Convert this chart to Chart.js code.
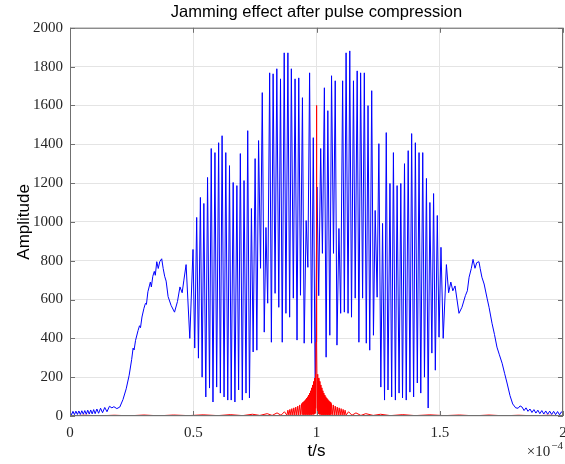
<!DOCTYPE html>
<html>
<head>
<meta charset="utf-8">
<script src="https://cdn.jsdelivr.net/npm/chart.js@4.4.0/dist/chart.umd.min.js"></script>
<style>
  html, body { margin: 0; padding: 0; background: #fff; }
  canvas { display: block; }
</style>
</head>
<body>
<canvas id="jamChart" width="565" height="464"></canvas>
<script>
// time in units of 1e-4 s, amplitude
const xTicks = [0, 0.5, 1, 1.5, 2];
const yTicks = [0, 200, 400, 600, 800, 1000, 1200, 1400, 1600, 1800, 2000];

// jamming signal (blue)
const blueTime = [
  0.000, 0.006, 0.012, 0.018, 0.024, 0.030, 0.036, 0.042, 0.048, 0.054,
  0.060, 0.066, 0.072, 0.078, 0.084, 0.090, 0.096, 0.102, 0.109, 0.116,
  0.124, 0.132, 0.141, 0.150, 0.160, 0.170, 0.178, 0.190, 0.202, 0.215,
  0.228, 0.240, 0.250, 0.256, 0.260, 0.266, 0.276, 0.282, 0.286, 0.292,
  0.300, 0.306, 0.310, 0.316, 0.322, 0.326, 0.330, 0.336, 0.342, 0.346,
  0.352, 0.358, 0.364, 0.372, 0.378, 0.384, 0.390, 0.398, 0.410, 0.424,
  0.436, 0.446, 0.455, 0.462, 0.471, 0.486,
  0.499, 0.506, 0.514, 0.521, 0.529, 0.536, 0.543, 0.551, 0.558, 0.566,
  0.573, 0.580, 0.588, 0.595, 0.603, 0.610, 0.617, 0.625, 0.632, 0.640,
  0.647, 0.654, 0.662, 0.669, 0.677, 0.684, 0.691, 0.699, 0.706, 0.714,
  0.721, 0.728, 0.736, 0.743, 0.751, 0.758, 0.765, 0.773, 0.780, 0.788,
  0.795, 0.802, 0.810, 0.817, 0.824, 0.832, 0.839, 0.847, 0.854, 0.861,
  0.869, 0.876, 0.884, 0.891, 0.898, 0.906, 0.913, 0.921, 0.928, 0.935,
  0.943, 0.950, 0.958, 0.965, 0.972, 0.980, 0.987, 0.995,
  1.002,
  1.009, 1.017, 1.024, 1.032, 1.039, 1.046, 1.054, 1.061, 1.069, 1.076,
  1.083, 1.091, 1.098, 1.106, 1.113, 1.120, 1.128, 1.135, 1.142, 1.150,
  1.157, 1.165, 1.172, 1.179, 1.187, 1.194, 1.202, 1.209, 1.216, 1.224,
  1.231, 1.238, 1.246, 1.253, 1.261, 1.268, 1.276, 1.283, 1.290, 1.298,
  1.305, 1.312, 1.320, 1.327, 1.335, 1.342, 1.349, 1.357, 1.364, 1.372,
  1.379, 1.386, 1.394, 1.401, 1.409, 1.416, 1.423, 1.431, 1.438, 1.446,
  1.453, 1.460, 1.468, 1.475, 1.482, 1.490, 1.497, 1.505,
  1.514, 1.527, 1.536, 1.545, 1.553, 1.562, 1.578, 1.590, 1.604, 1.612,
  1.619, 1.628, 1.635, 1.643, 1.650, 1.659, 1.664, 1.671, 1.680, 1.692,
  1.700, 1.712, 1.722, 1.732, 1.742, 1.753, 1.763, 1.773, 1.785, 1.796,
  1.808, 1.818, 1.826, 1.834, 1.842, 1.850, 1.858, 1.866, 1.874, 1.882,
  1.890, 1.898, 1.906, 1.914, 1.922, 1.930, 1.938, 1.946, 1.954, 1.962,
  1.970, 1.978, 1.986, 1.994, 2.000
];
const blueAmp = [
  20, 6, 24, 7, 25, 8, 26, 8, 27, 9,
  28, 9, 30, 10, 31, 11, 33, 12, 36, 14,
  40, 17, 44, 22, 50, 42, 48, 38, 46, 85,
  140, 210, 290, 350, 340, 390, 440, 465, 455, 510,
  555, 580, 575, 640, 670, 690, 665, 720, 745, 725,
  795, 760, 795, 810, 760, 720, 695, 615, 570, 535,
  590, 665, 635, 700, 780, 400,
  858, 350, 1023, 298, 1126, 200, 1095, 98, 1229, 144,
  1378, 72, 1357, 149, 1408, 118, 1444, 98, 1357, 82,
  1290, 82, 1203, 72, 1187, 134, 1352, 82, 1213, 118,
  1470, 93, 1069, 330, 1326, 339, 1419, 761, 1666, 432,
  971, 581, 1768, 380, 1763, 632, 1789, 560, 1737, 380,
  1871, 529, 1871, 509, 1789, 607, 1737, 391, 1742, 622,
  1640, 375, 1007, 766, 1768, 375, 1434, 67,
  1180,
  620, 1378, 838, 1691, 303, 1573, 416, 1753, 838, 1727,
  365, 966, 529, 1727, 535, 1871, 529, 1881, 509, 1727,
  607, 1778, 380, 1768, 607, 1768, 375, 1599, 339, 1676,
  416, 1059, 612, 1403, 149, 992, 82, 1460, 134, 1198,
  98, 1357, 82, 1187, 118, 1198, 93, 1300, 82, 1367,
  123, 1455, 98, 1408, 170, 1357, 118, 1357, 200, 1224,
  41, 1100, 324, 1146, 236, 1033, 406, 869,
  400, 780, 635, 690, 645, 670, 529, 560, 620, 645,
  715, 760, 807, 761, 790, 795, 760, 715, 680, 607,
  560, 478, 420, 355, 315, 272, 220, 170, 105, 62,
  42, 40, 52, 46, 28, 42, 24, 36, 18, 33,
  15, 30, 12, 28, 10, 26, 9, 25, 8, 24,
  7, 23, 6, 22, 12
];

// compressed echo (red)
const redTime = [
  0.000, 0.060, 0.120, 0.180, 0.240, 0.300, 0.360, 0.420, 0.480, 0.540,
  0.600, 0.650, 0.700, 0.740, 0.770, 0.800, 0.820, 0.840, 0.856, 0.870,
  0.880,
  0.884, 0.888, 0.892, 0.896, 0.900, 0.904, 0.908, 0.912, 0.916, 0.920,
  0.924, 0.928, 0.932, 0.936, 0.940,
  0.942, 0.944, 0.946, 0.948, 0.950, 0.952, 0.954, 0.956, 0.958, 0.960,
  0.962, 0.964, 0.966, 0.968, 0.970, 0.972, 0.974, 0.976, 0.978, 0.980,
  0.982, 0.984, 0.986, 0.988, 0.990, 0.992, 0.994, 0.996, 0.997, 0.998,
  0.999, 1.000,
  1.001, 1.002, 1.003, 1.004, 1.006, 1.008, 1.010, 1.012, 1.014, 1.016,
  1.018, 1.020, 1.022, 1.024, 1.026, 1.028, 1.030, 1.032, 1.034, 1.036,
  1.038, 1.040, 1.042, 1.044, 1.046, 1.048, 1.050, 1.052, 1.054, 1.056,
  1.058, 1.060,
  1.064, 1.068, 1.072, 1.076, 1.080, 1.084, 1.088, 1.092, 1.096, 1.100,
  1.104, 1.108, 1.112, 1.116, 1.120,
  1.130, 1.144, 1.160, 1.180, 1.200, 1.230, 1.260, 1.300, 1.350, 1.400,
  1.460, 1.520, 1.580, 1.640, 1.700, 1.760, 1.820, 1.880, 1.940, 2.000
];
const redAmp = [
  1, 4, 1, 4, 1, 5, 1, 5, 2, 6,
  2, 7, 2, 9, 3, 12, 3, 16, 4, 22,
  4,
  30, 4, 34, 5, 38, 4, 42, 5, 46, 5,
  51, 4, 57, 6, 64,
  8, 70, 6, 74, 8, 79, 6, 85, 8, 92,
  6, 99, 8, 108, 6, 118, 8, 130, 6, 145,
  9, 160, 8, 178, 10, 195, 14, 215, 40, 380,
  1150, 1600,
  1150, 380, 40, 215, 14, 195, 10, 178, 8, 160,
  9, 145, 6, 130, 8, 118, 6, 108, 8, 99,
  6, 92, 8, 85, 6, 79, 8, 74, 6, 70,
  8, 64,
  6, 57, 4, 51, 5, 46, 5, 42, 4, 38,
  5, 34, 4, 30, 4,
  22, 4, 16, 3, 12, 3, 9, 2, 7, 2,
  6, 2, 5, 1, 5, 1, 4, 1, 4, 1
];

const bluePts = blueTime.map((t, i) => ({ x: t, y: blueAmp[i] }));
const redPts = redTime.map((t, i) => ({ x: t, y: redAmp[i] }));

const tickFont = { family: 'Liberation Serif', size: 15 };
const labelFont = { family: 'Liberation Sans', size: 17 };

// MATLAB style box with inward ticks and the x exponent
const boxPlugin = {
  id: 'matlabBox',
  afterDatasetsDraw(chart) {
    const { ctx, chartArea: a, scales: { x, y } } = chart;
    ctx.save();
    ctx.strokeStyle = '#707070';
    ctx.lineWidth = 1;
    ctx.strokeRect(a.left + 0.5, a.top + 0.5, a.right - a.left - 1, a.bottom - a.top - 1);
    ctx.beginPath();
    xTicks.forEach(v => {
      const px = Math.round(x.getPixelForValue(v)) + 0.5;
      ctx.moveTo(px, a.bottom); ctx.lineTo(px, a.bottom - 5);
      ctx.moveTo(px, a.top); ctx.lineTo(px, a.top + 5);
    });
    yTicks.forEach(v => {
      const py = Math.round(y.getPixelForValue(v)) + 0.5;
      ctx.moveTo(a.left, py); ctx.lineTo(a.left + 5, py);
      ctx.moveTo(a.right, py); ctx.lineTo(a.right - 5, py);
    });
    ctx.stroke();

    ctx.fillStyle = '#262626';
    ctx.textAlign = 'right';
    ctx.textBaseline = 'alphabetic';
    ctx.font = '11px "Liberation Serif"';
    const expW = ctx.measureText('\u22124').width;
    ctx.fillText('\u22124', a.right, 449);
    ctx.font = '15px "Liberation Serif"';
    ctx.fillText('\u00d710', a.right - expW - 1, 456);
    ctx.restore();
  }
};

new Chart(document.getElementById('jamChart'), {
  type: 'line',
  data: {
    datasets: [
      {
        label: 'echo',
        data: redPts,
        borderColor: '#ff0000',
        borderWidth: 1,
        pointRadius: 0,
        tension: 0,
        order: 0
      },
      {
        label: 'jamming',
        data: bluePts,
        borderColor: '#0000ff',
        borderWidth: 1,
        pointRadius: 0,
        tension: 0,
        order: 1
      }
    ]
  },
  options: {
    responsive: false,
    animation: false,
    devicePixelRatio: 1,
    layout: { padding: { left: 0, right: 2, top: 0, bottom: 0 } },
    plugins: {
      legend: { display: false },
      tooltip: { enabled: false },
      title: {
        display: true,
        fullSize: false,
        text: 'Jamming effect after pulse compression',
        color: '#000',
        font: { family: 'Liberation Sans', size: 16.5, weight: 'normal' },
        padding: { top: 3, bottom: 5 }
      }
    },
    scales: {
      x: {
        type: 'linear',
        min: 0,
        max: 2,
        grid: { color: '#e4e4e4', drawTicks: false },
        border: { display: false },
        ticks: {
          stepSize: 0.5,
          padding: 8,
          maxRotation: 0,
          color: '#262626',
          font: tickFont,
          callback: v => String(v)
        },
        title: { display: true, text: 't/s', color: '#000', font: labelFont, padding: { top: 0, bottom: 2 } },
        afterFit(s) { s.height = 48; s.paddingLeft = 0; s.paddingRight = 0; }
      },
      y: {
        min: 0,
        max: 2000,
        grid: { color: '#e4e4e4', drawTicks: false },
        border: { display: false },
        ticks: { stepSize: 200, padding: 7, color: '#262626', font: tickFont, callback: v => String(v) },
        title: { display: true, text: 'Amplitude', color: '#000', font: labelFont, padding: { top: 14, bottom: 0 } },
        afterFit(s) { s.width = 70; }
      }
    }
  },
  plugins: [boxPlugin]
});
</script>
</body>
</html>
